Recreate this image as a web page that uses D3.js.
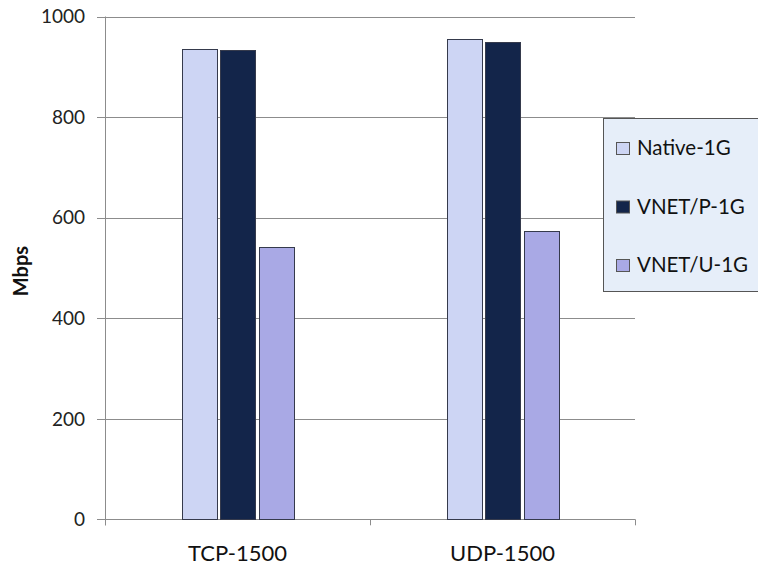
<!DOCTYPE html>
<html><head><meta charset="utf-8">
<script src="https://cdn.jsdelivr.net/npm/d3@7"></script>
<style>body{margin:0;background:#fff}svg{display:block}</style>
</head><body>
<svg id="c" width="758" height="567"></svg>
<script>
const categories = ["TCP-1500", "UDP-1500"];
const seriesNames = ["Native-1G", "VNET/P-1G", "VNET/U-1G"];
const native1G = [936, 956];
const vnetP1G = [934, 950];
const vnetU1G = [541, 574];
const yTicks = [0, 200, 400, 600, 800, 1000];
const colors = ["#cdd5f4", "#13254a", "#a9a9e5"];

(function () {
const seriesValues = [native1G, vnetP1G, vnetU1G];
const svg = d3.select("#c");
const pLeft = 105, pRight = 635, pTop = 16.5, pBottom = 519.3;
const font = "Lato, 'Open Sans', sans-serif";

const x = d3.scaleBand().domain(categories).range([pLeft, pRight]).paddingInner(0).paddingOuter(0);
const y = d3.scaleLinear().domain([0, 1000]).range([pBottom, pTop]);
const xs = d3.scaleBand().domain(seriesNames).range([0, 112]).paddingInner(0.08).paddingOuter(0);

// gridlines
svg.append("g").selectAll("line").data(yTicks).join("line")
  .attr("x1", 97).attr("x2", pRight).attr("y1", d => Math.round(y(d)) + 0.5).attr("y2", d => Math.round(y(d)) + 0.5)
  .attr("stroke", "#8c8c8c").attr("stroke-width", 1);

// y axis labels
svg.append("g").selectAll("text").data(yTicks).join("text")
  .attr("x", 85).attr("y", d => y(d)).attr("dy", "0.36em")
  .attr("text-anchor", "end").attr("font-family", font)
  .attr("font-size", 19).attr("fill", "#222").text(d => d);

// y axis line
svg.append("line").attr("x1", pLeft + 0.5).attr("x2", pLeft + 0.5).attr("y1", pTop).attr("y2", pBottom + 6)
  .attr("stroke", "#8c8c8c");
// x axis
svg.append("line").attr("x1", pLeft).attr("x2", pRight).attr("y1", Math.round(pBottom) + 0.5).attr("y2", Math.round(pBottom) + 0.5)
  .attr("stroke", "#8c8c8c");
const bounds = [pLeft, x(categories[1]), pRight];
svg.append("g").selectAll("line").data(bounds).join("line")
  .attr("x1", d => Math.round(d) + 0.5).attr("x2", d => Math.round(d) + 0.5).attr("y1", pBottom).attr("y2", pBottom + 6)
  .attr("stroke", "#8c8c8c");

// bars
const groups = svg.append("g").selectAll("g").data(categories).join("g")
  .attr("transform", c => `translate(${Math.round(x(c) + x.bandwidth()/2 - 56)},0)`);
groups.selectAll("rect").data((c, i) => seriesNames.map((s, j) => ({s, j, v: seriesValues[j][i]})))
  .join("rect")
  .attr("x", d => Math.round(xs(d.s)) + 0.5).attr("width", Math.round(xs.bandwidth()))
  .attr("y", d => Math.round(y(d.v)) + 0.5).attr("height", d => Math.round(pBottom) - Math.round(y(d.v)))
  .attr("fill", d => colors[d.j]).attr("stroke", "#353a4c").attr("stroke-width", 1);

// category labels
svg.append("g").selectAll("text").data(categories).join("text")
  .attr("x", c => x(c) + x.bandwidth()/2).attr("y", 561)
  .attr("text-anchor", "middle").attr("font-family", font)
  .attr("font-size", 22).attr("fill", "#111").text(c => c);

// y title
svg.append("text").attr("transform", "translate(28,271) rotate(-90)")
  .attr("text-anchor", "middle").attr("font-family", font)
  .attr("font-weight", "bold").attr("font-size", 20).attr("fill", "#111").text("Mbps");

// legend
const lg = svg.append("g");
lg.append("rect").attr("x", 603.5).attr("y", 118.5).attr("width", 160).attr("height", 173)
  .attr("fill", "#e6eef9").attr("stroke", "#555");
const li = lg.selectAll("g").data(seriesNames).join("g")
  .attr("transform", (d, i) => `translate(616,${155 + i * 58.5})`);
li.append("rect").attr("x", 0.5).attr("y", -12.5).attr("width", 13).attr("height", 12)
  .attr("fill", (d, i) => colors[i]).attr("stroke", "#555");
li.append("text").attr("x", 21).attr("y", 0).attr("font-family", font)
  .attr("font-size", 20.5).attr("fill", "#111").text(d => d);
})();
</script>
</body></html>
